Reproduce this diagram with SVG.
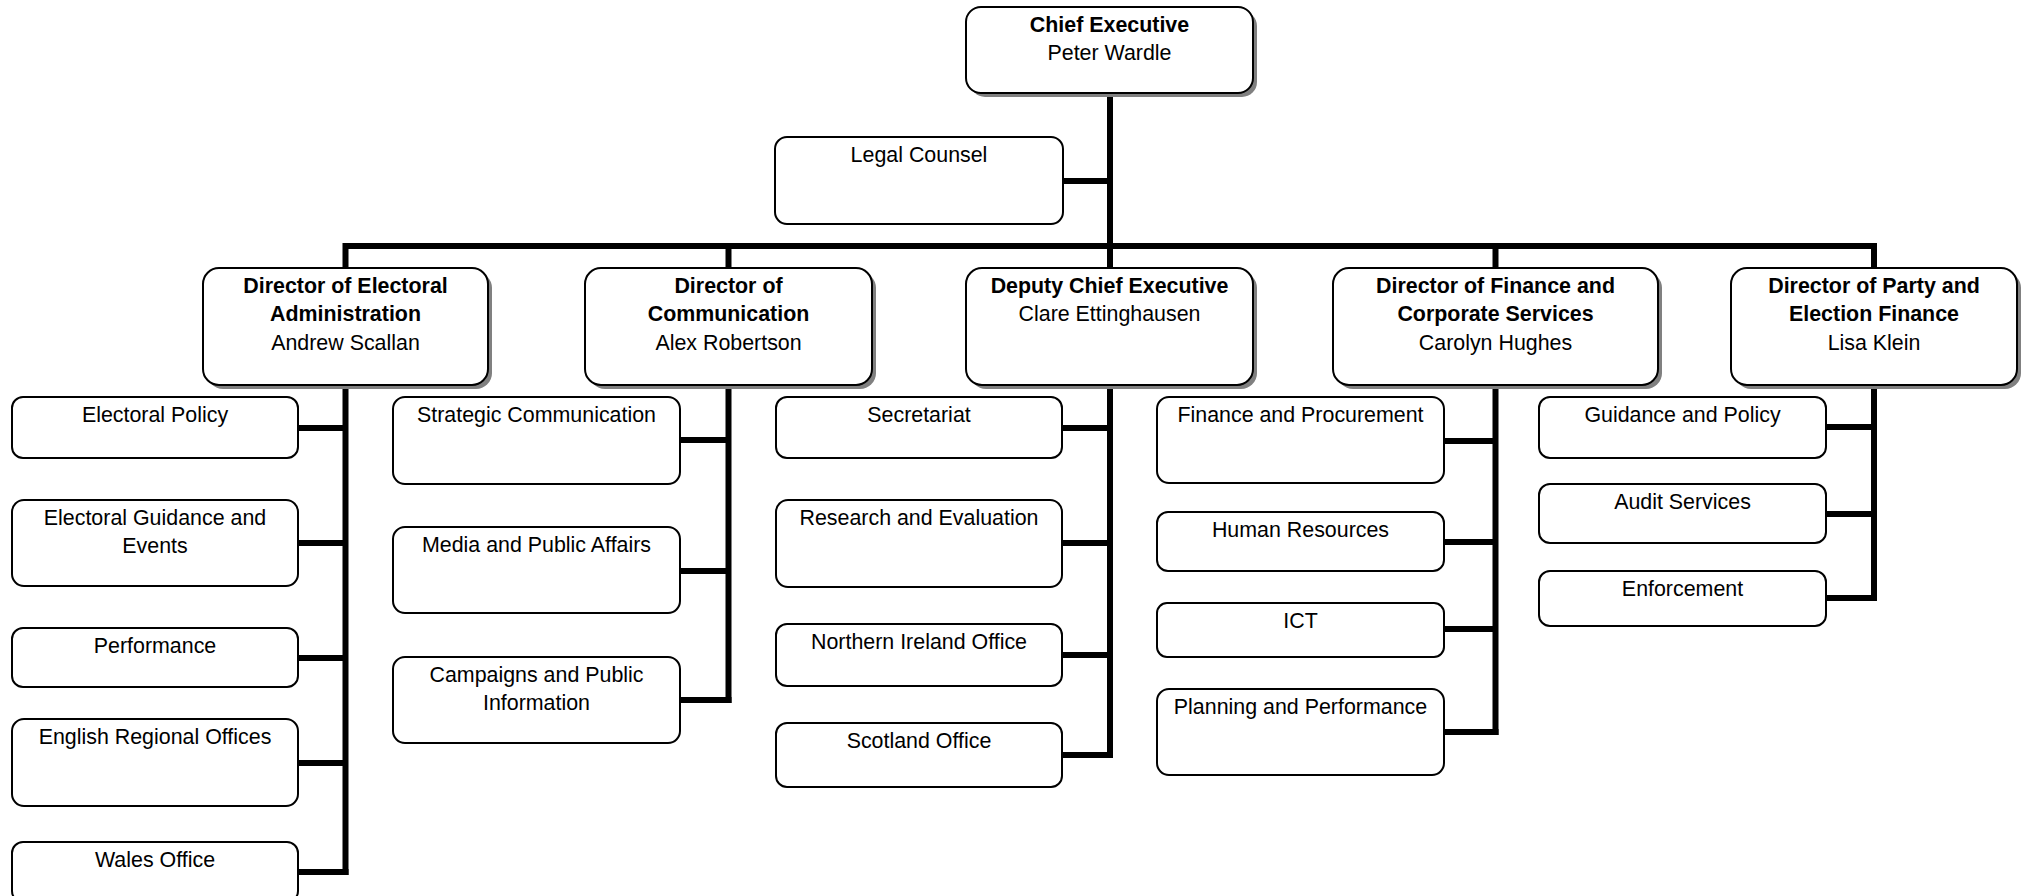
<svg xmlns="http://www.w3.org/2000/svg" width="2026" height="896" viewBox="0 0 2026 896">
<style>
.bg{fill:#ffffff}
.box{fill:#ffffff;stroke:#000000;stroke-width:2}
.shadow{fill:#808080}
.conn{fill:none;stroke:#000000;stroke-width:6;stroke-linejoin:miter;stroke-linecap:butt}
text{font-family:"Liberation Sans",Arial,sans-serif;font-size:21.4px;fill:#000000;text-anchor:middle}
.b{font-weight:bold}
</style>
<rect class="bg" x="0" y="0" width="2026" height="896"/>
<g id="connectors">
<path class="conn" d="M1110 93 V246"/>
<path class="conn" d="M1063 181 H1110"/>
<path class="conn" d="M345.5 267 V246 H1874 V267"/>
<path class="conn" d="M728.5 246 V267"/>
<path class="conn" d="M1495.5 246 V267"/>
<path class="conn" d="M1110 246 V267"/>
<path class="conn" d="M345.5 385 V875"/>
<path class="conn" d="M298 428 H345.5 M298 543 H345.5 M298 658 H345.5 M298 763 H345.5 M298 872 H348.5"/>
<path class="conn" d="M728.5 385 V703"/>
<path class="conn" d="M680 440 H728.5 M680 571 H728.5 M680 700 H731.5"/>
<path class="conn" d="M1110 385 V758"/>
<path class="conn" d="M1062 428 H1110 M1062 543 H1110 M1062 655 H1110 M1062 755 H1113"/>
<path class="conn" d="M1495.5 385 V735"/>
<path class="conn" d="M1444 441 H1495.5 M1444 542 H1495.5 M1444 629 H1495.5 M1444 732 H1498.5"/>
<path class="conn" d="M1874 385 V601"/>
<path class="conn" d="M1826 427 H1874 M1826 514 H1874 M1826 598 H1877"/>
</g>
<g id="chief-executive">
<rect class="shadow" x="970" y="11" width="287" height="86" rx="15"/>
<rect class="box" x="966" y="7" width="287" height="86" rx="15"/>
<text x="1109.5" y="31.5" class="b">Chief Executive</text>
<text x="1109.5" y="60">Peter Wardle</text>
</g>
<g id="legal-counsel">
<rect class="box" x="775" y="137" width="288" height="87" rx="12"/>
<text x="919" y="161.5">Legal Counsel</text>
</g>
<g id="dir-electoral-administration">
<rect class="shadow" x="207" y="272" width="285" height="117" rx="16"/>
<rect class="box" x="203" y="268" width="285" height="117" rx="16"/>
<text x="345.5" y="292.5" class="b">Director of Electoral</text>
<text x="345.5" y="321" class="b">Administration</text>
<text x="345.5" y="349.5">Andrew Scallan</text>
</g>
<g id="dir-communication">
<rect class="shadow" x="589" y="272" width="287" height="117" rx="16"/>
<rect class="box" x="585" y="268" width="287" height="117" rx="16"/>
<text x="728.5" y="292.5" class="b">Director of</text>
<text x="728.5" y="321" class="b">Communication</text>
<text x="728.5" y="349.5">Alex Robertson</text>
</g>
<g id="deputy-chief-executive">
<rect class="shadow" x="970" y="272" width="287" height="117" rx="16"/>
<rect class="box" x="966" y="268" width="287" height="117" rx="16"/>
<text x="1109.5" y="292.5" class="b">Deputy Chief Executive</text>
<text x="1109.5" y="321">Clare Ettinghausen</text>
</g>
<g id="dir-finance-corporate">
<rect class="shadow" x="1337" y="272" width="325" height="117" rx="16"/>
<rect class="box" x="1333" y="268" width="325" height="117" rx="16"/>
<text x="1495.5" y="292.5" class="b">Director of Finance and</text>
<text x="1495.5" y="321" class="b">Corporate Services</text>
<text x="1495.5" y="349.5">Carolyn Hughes</text>
</g>
<g id="dir-party-election-finance">
<rect class="shadow" x="1735" y="272" width="286" height="117" rx="16"/>
<rect class="box" x="1731" y="268" width="286" height="117" rx="16"/>
<text x="1874" y="292.5" class="b">Director of Party and</text>
<text x="1874" y="321" class="b">Election Finance</text>
<text x="1874" y="349.5">Lisa Klein</text>
</g>
<g id="electoral-policy">
<rect class="box" x="12" y="397" width="286" height="61" rx="11"/>
<text x="155" y="421.5">Electoral Policy</text>
</g>
<g id="electoral-guidance-events">
<rect class="box" x="12" y="500" width="286" height="86" rx="12"/>
<text x="155" y="524.5">Electoral Guidance and</text>
<text x="155" y="553">Events</text>
</g>
<g id="performance">
<rect class="box" x="12" y="628" width="286" height="59" rx="11"/>
<text x="155" y="652.5">Performance</text>
</g>
<g id="english-regional-offices">
<rect class="box" x="12" y="719" width="286" height="87" rx="12"/>
<text x="155" y="743.5">English Regional Offices</text>
</g>
<g id="wales-office">
<rect class="box" x="12" y="842" width="286" height="60" rx="11"/>
<text x="155" y="866.5">Wales Office</text>
</g>
<g id="strategic-communication">
<rect class="box" x="393" y="397" width="287" height="87" rx="12"/>
<text x="536.5" y="421.5">Strategic Communication</text>
</g>
<g id="media-public-affairs">
<rect class="box" x="393" y="527" width="287" height="86" rx="12"/>
<text x="536.5" y="551.5">Media and Public Affairs</text>
</g>
<g id="campaigns-public-information">
<rect class="box" x="393" y="657" width="287" height="86" rx="12"/>
<text x="536.5" y="681.5">Campaigns and Public</text>
<text x="536.5" y="710">Information</text>
</g>
<g id="secretariat">
<rect class="box" x="776" y="397" width="286" height="61" rx="11"/>
<text x="919" y="421.5">Secretariat</text>
</g>
<g id="research-evaluation">
<rect class="box" x="776" y="500" width="286" height="87" rx="12"/>
<text x="919" y="524.5">Research and Evaluation</text>
</g>
<g id="northern-ireland-office">
<rect class="box" x="776" y="624" width="286" height="62" rx="11"/>
<text x="919" y="648.5">Northern Ireland Office</text>
</g>
<g id="scotland-office">
<rect class="box" x="776" y="723" width="286" height="64" rx="11"/>
<text x="919" y="747.5">Scotland Office</text>
</g>
<g id="finance-procurement">
<rect class="box" x="1157" y="397" width="287" height="86" rx="12"/>
<text x="1300.5" y="421.5">Finance and Procurement</text>
</g>
<g id="human-resources">
<rect class="box" x="1157" y="512" width="287" height="59" rx="11"/>
<text x="1300.5" y="536.5">Human Resources</text>
</g>
<g id="ict">
<rect class="box" x="1157" y="603" width="287" height="54" rx="10"/>
<text x="1300.5" y="627.5">ICT</text>
</g>
<g id="planning-performance">
<rect class="box" x="1157" y="689" width="287" height="86" rx="12"/>
<text x="1300.5" y="713.5">Planning and Performance</text>
</g>
<g id="guidance-policy">
<rect class="box" x="1539" y="397" width="287" height="61" rx="11"/>
<text x="1682.5" y="421.5">Guidance and Policy</text>
</g>
<g id="audit-services">
<rect class="box" x="1539" y="484" width="287" height="59" rx="11"/>
<text x="1682.5" y="508.5">Audit Services</text>
</g>
<g id="enforcement">
<rect class="box" x="1539" y="571" width="287" height="55" rx="11"/>
<text x="1682.5" y="595.5">Enforcement</text>
</g>
</svg>
